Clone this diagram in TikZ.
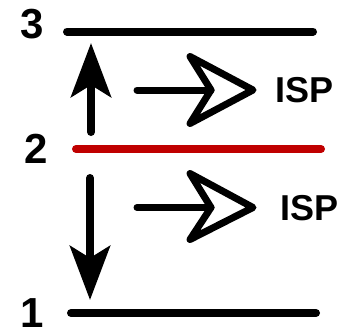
\documentclass[tikz,border=0pt]{standalone}
\usepackage{fontspec}
\setmainfont{Liberation Sans}
\usetikzlibrary{arrows.meta}
\definecolor{levelred}{RGB}{192,0,0}
\begin{document}
\begin{tikzpicture}[x=1pt,y=-1pt,
  level/.style={line width=8pt,line cap=round},
  lbl/.style={inner sep=0pt,font=\fontsize{42}{42}\selectfont\bfseries},
  isp/.style={inner sep=0pt,anchor=west,font=\fontsize{36}{36}\selectfont\bfseries},
  trans/.style={line width=8pt,line cap=round,-{Stealth[length=54pt,width=40pt,inset=12pt]}},
  chevron/.style={line width=7pt,line cap=round,line join=round}]
\useasboundingbox (0,0) rectangle (337,332);
% levels
\coordinate (l3a) at (67,31.5);  \coordinate (l3b) at (313,31.5);
\coordinate (l2a) at (76,149);   \coordinate (l2b) at (321,149);
\coordinate (l1a) at (71,313);   \coordinate (l1b) at (316,313);
\draw[level] (l3a) -- (l3b);
\draw[level,levelred] (l2a) -- (l2b);
\draw[level] (l1a) -- (l1b);
\node[lbl] (n3) at (32.5,24.5) {3};
\node[lbl] (n2) at (36.5,148.5) {2};
\node[lbl] (n1) at (32,313.5) {1};
% transitions
\coordinate (upS) at (91,132);  \coordinate (upE) at (91,43);
\coordinate (dnS) at (90,178);  \coordinate (dnE) at (90,300);
\draw[trans] (upS) -- (upE);
\draw[trans] (dnS) -- (dnE);
% open arrows (ISP)
\coordinate (a1s) at (137,90);  \coordinate (a1n) at (211,90);
\draw[chevron] (a1s) -- (a1n);
\draw[chevron] (190,56.5) -- (253,90) -- (190,123.5) -- (a1n) -- cycle;
\node[isp] (isp1) at (275,90.5) {ISP};
\coordinate (a2s) at (137,207.5); \coordinate (a2n) at (211,207.5);
\draw[chevron] (a2s) -- (a2n);
\draw[chevron] (190,173.5) -- (253,207.5) -- (190,239.5) -- (a2n) -- cycle;
\node[isp] (isp2) at (280,208.5) {ISP};
\end{tikzpicture}
\end{document}
